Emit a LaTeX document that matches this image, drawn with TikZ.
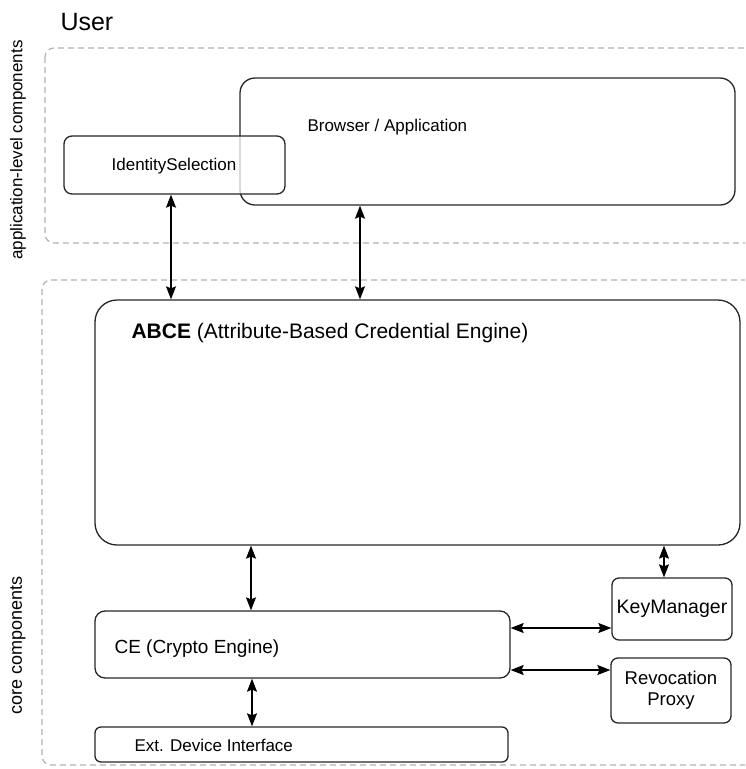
\documentclass[tikz,border=0pt]{standalone}
\usepackage{fontspec}
\setmainfont{Liberation Sans}
\usepackage{tikz}
\usetikzlibrary{arrows.meta}

\newcommand{\fs}[1]{\fontsize{#1}{#1}\selectfont}

\begin{document}
\begin{tikzpicture}[x=1pt,y=-1pt,
  box/.style={draw=black!85, line width=1.3pt, inner sep=0pt},
  region/.style={draw=black!30, line width=1.2pt, dash pattern=on 6pt off 4pt, rounded corners=9pt},
  arr/.style={draw, line width=1.3pt, {Stealth[length=13pt,width=10pt,inset=2pt]}-{Stealth[length=13pt,width=10pt,inset=2pt]}}]
\useasboundingbox (0,0) rectangle (745,769);
\clip (0,0) rectangle (745,769);

% groups
\draw[region] (45,48) rectangle (770,243);
\draw[region] (42,280) rectangle (770,765);
\node[anchor=west] (user) at (57,22) {\fs{25}User};
\node[rotate=90] (applbl) at (18,150) {\fs{17}application-level components};
\node[rotate=90] (corelbl) at (18,645) {\fs{18}core components};

% application level
\node[box, rounded corners=15pt, minimum width=495pt, minimum height=127pt] (browser) at (487.5,141.5) {};
\node[anchor=west] (browsertxt) at (304,127) {\fs{17}Browser / Application};
\node[box, rounded corners=8pt, fill=white, fill opacity=0.75, minimum width=221pt, minimum height=58pt] (idsel) at (174.5,165) {};
\node (idseltxt) at (174,166) {\fs{17}IdentitySelection};

% core
\node[box, rounded corners=22pt, minimum width=645pt, minimum height=245pt] (abce) at (417.5,422.5) {};
\node[anchor=west] (abcetxt) at (128,333) {\fs{21}\textbf{ABCE} (Attribute-Based Credential Engine)};
\node[box, rounded corners=7pt, minimum width=120pt, minimum height=62pt] (keymgr) at (672,609) {\fs{19.5}KeyManager};
\node[box, rounded corners=7pt, minimum width=120pt, minimum height=65pt, align=center] (revoc) at (671,690.5) {\fs{18.5}Revocation\\[7pt]\fs{18.5}Proxy};
\node[box, rounded corners=10pt, minimum width=415pt, minimum height=67pt] (ce) at (302.5,644.5) {};
\node[anchor=west] (cetxt) at (111,649) {\fs{19}CE (Crypto Engine)};
\node[box, rounded corners=6pt, minimum width=413pt, minimum height=35pt] (ext) at (301.5,744.5) {};
\node[anchor=west] (exttxt) at (131,745) {\fs{17}Ext. Device Interface};

% connectors
\coordinate (x1) at (171,0);
\coordinate (x2) at (360,0);
\coordinate (x3) at (251,0);
\coordinate (x4) at (664,0);
\coordinate (x5) at (252,0);
\coordinate (y1) at (0,628);
\coordinate (y2) at (0,670);

\path[arr] (idsel.south -| x1) -- (abce.north -| x1);
\path[arr] (browser.south -| x2) -- (abce.north -| x2);
\path[arr] (abce.south -| x3) -- (ce.north -| x3);
\path[arr] (abce.south -| x4) -- (keymgr.north -| x4);
\path[arr] (ce.east |- y1) -- (keymgr.west |- y1);
\path[arr] (ce.east |- y2) -- (revoc.west |- y2);
\path[arr] (ce.south -| x5) -- (ext.north -| x5);
\end{tikzpicture}
\end{document}
